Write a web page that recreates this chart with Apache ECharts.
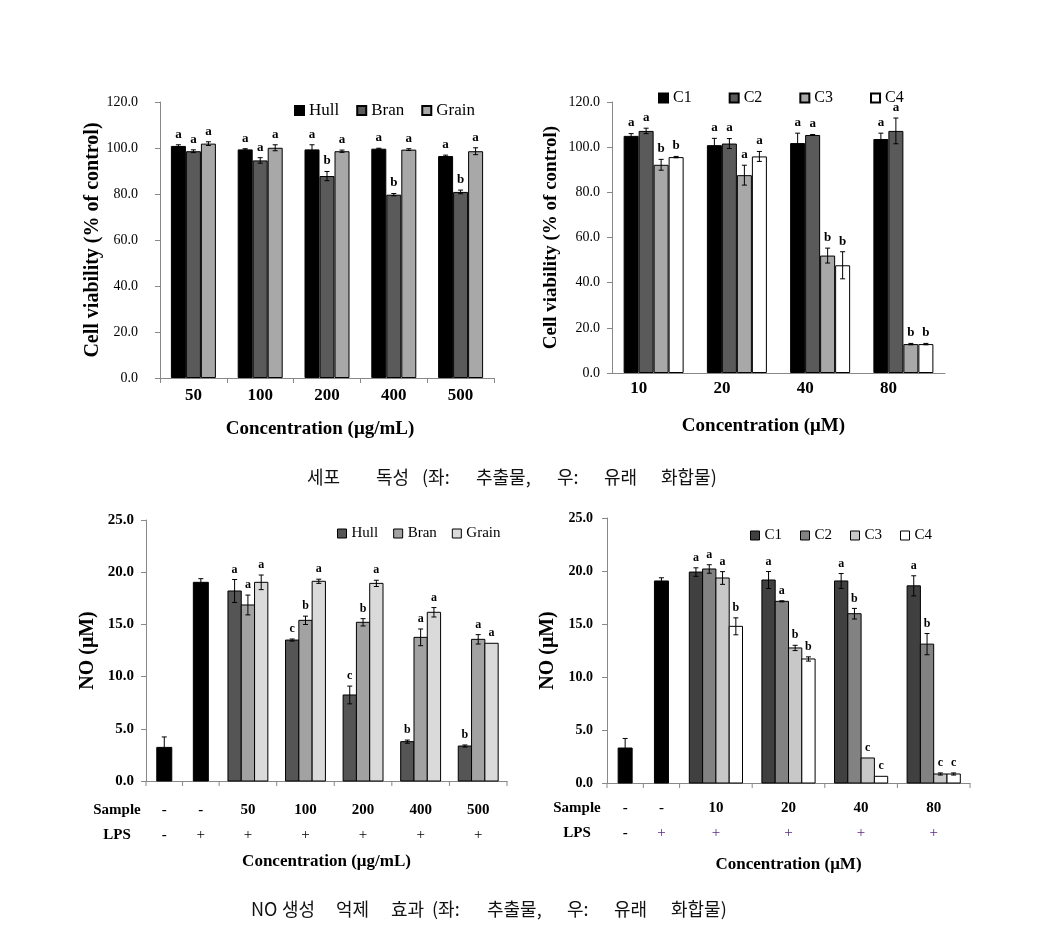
<!DOCTYPE html>
<html><head><meta charset="utf-8">
<script src="https://cdn.jsdelivr.net/npm/echarts@6/dist/echarts.min.js"></script>
<style>html,body{margin:0;padding:0;background:#fff}#c{width:1038px;height:928px}</style>
</head><body><div id="c"></div><script>
// ---------- Panel 1: cell viability, extracts ----------
const p1Categories = ['50', '100', '200', '400', '500'];
const p1Hull  = [100.9, 99.4, 99.4, 99.7, 96.5];
const p1Bran  = [98.6, 94.6, 87.8, 79.7, 80.9];
const p1Grain = [101.9, 100.1, 98.6, 99.3, 98.6];
const p1HullErr  = [0.5, 0.3, 2.0, 0.2, 0.4];
const p1BranErr  = [0.6, 1.2, 2.0, 0.5, 0.8];
const p1GrainErr = [0.8, 1.3, 0.5, 0.4, 1.5];
const p1HullSig  = ['a', 'a', 'a', 'a', 'a'];
const p1BranSig  = ['a', 'a', 'b', 'b', 'b'];
const p1GrainSig = ['a', 'a', 'a', 'a', 'a'];

// ---------- Panel 2: cell viability, compounds ----------
const p2Categories = ['10', '20', '40', '80'];
const p2C1 = [105.0, 100.9, 101.8, 103.6];
const p2C2 = [107.2, 101.6, 105.4, 107.2];
const p2C3 = [92.2, 87.6, 52.0, 12.8];
const p2C4 = [95.6, 95.9, 47.7, 12.8];
const p2C1Err = [1.0, 3.0, 4.4, 2.6];
const p2C2Err = [1.2, 2.2, 0.2, 5.7];
const p2C3Err = [2.4, 4.4, 3.3, 0.3];
const p2C4Err = [0.3, 2.2, 6.0, 0.3];
const p2C1Sig = ['a', 'a', 'a', 'a'];
const p2C2Sig = ['a', 'a', 'a', 'a'];
const p2C3Sig = ['b', 'a', 'b', 'b'];
const p2C4Sig = ['b', 'a', 'b', 'b'];

// ---------- Panel 3: NO production, extracts ----------
const p3Sample = ['-', '-', '50', '100', '200', '400', '500'];
const p3LPS    = ['-', '+', '+', '+', '+', '+', '+'];
const p3Control    = [3.22, 19.03];
const p3ControlErr = [1.0, 0.35];
const p3Hull  = [18.2, 13.5, 8.24, 3.77, 3.35];
const p3Bran  = [16.86, 15.39, 15.2, 13.76, 13.57];
const p3Grain = [19.03, 19.13, 18.93, 16.16, 13.19];
const p3HullErr  = [1.1, 0.1, 0.85, 0.15, 0.1];
const p3BranErr  = [0.95, 0.4, 0.35, 0.8, 0.45];
const p3GrainErr = [0.7, 0.2, 0.3, 0.45, 0];
const p3HullSig  = ['a', 'c', 'c', 'b', 'b'];
const p3BranSig  = ['a', 'b', 'b', 'a', 'a'];
const p3GrainSig = ['a', 'a', 'a', 'a', 'a'];

// ---------- Panel 4: NO production, compounds ----------
const p4Sample = ['-', '-', '10', '20', '40', '80'];
const p4LPS    = ['-', '+', '+', '+', '+', '+'];
const p4Control    = [3.3, 19.06];
const p4ControlErr = [0.9, 0.3];
const p4C1 = [19.9, 19.15, 19.06, 18.6];
const p4C2 = [20.19, 17.14, 15.97, 13.1];
const p4C3 = [19.34, 12.74, 2.36, 0.85];
const p4C4 = [14.78, 11.7, 0.63, 0.85];
const p4C1Err = [0.4, 0.8, 0.7, 0.95];
const p4C2Err = [0.4, 0.05, 0.5, 1.0];
const p4C3Err = [0.6, 0.25, 0, 0.1];
const p4C4Err = [0.8, 0.2, 0, 0.1];
const p4C1Sig = ['a', 'a', 'a', 'a'];
const p4C2Sig = ['a', 'a', 'b', 'b'];
const p4C3Sig = ['a', 'b', 'c', 'c'];
const p4C4Sig = ['b', 'b', 'c', 'c'];

const topCaption = ['세포', '독성', '(좌:', '추출물,', '우:', '유래', '화합물)'];
const bottomCaption = ['NO', '생성', '억제', '효과', '(좌:', '추출물,', '우:', '유래', '화합물)'];

// ---------- helpers ----------
const SERIF = "'Liberation Serif','Times New Roman',serif";
const KR = "'Noto Sans CJK KR','Noto Sans',sans-serif";

function errGroup(cx, yt, yb, sig, font, hasErr) {
  const ch = [];
  if (hasErr) {
    const s = {stroke: '#000', lineWidth: 1};
    ch.push({type: 'line', shape: {x1: cx, y1: yt, x2: cx, y2: yb}, style: s});
    ch.push({type: 'line', shape: {x1: cx - 2.5, y1: yt, x2: cx + 2.5, y2: yt}, style: s});
    ch.push({type: 'line', shape: {x1: cx - 2.5, y1: yb, x2: cx + 2.5, y2: yb}, style: s});
  }
  if (sig) ch.push({type: 'text', x: cx, y: yt - 4, style: {text: sig, font: font, fill: '#000', align: 'center', verticalAlign: 'bottom'}});
  return ch;
}

// error bars + letters on category axes (top panels)
function topErr(name, idx, rows, barW) {
  const data = [], sigs = [];
  rows.forEach((r, k) => r.v.forEach((v, i) => { data.push([i, v, r.e[i], k]); sigs.push(r.s[i]); }));
  const n = rows.length;
  return {
    type: 'custom', name: name, xAxisIndex: idx, yAxisIndex: idx, data: data, z: 5, silent: true,
    encode: {x: 0, y: 1},
    renderItem: function (params, api) {
      const i = api.value(0), v = api.value(1), e = api.value(2), k = api.value(3);
      const cx = api.coord([i, v])[0] + (k - (n - 1) / 2) * barW;
      const yt = api.coord([i, v + e])[1], yb = api.coord([i, v - e])[1];
      return {type: 'group', children: errGroup(cx, yt, yb, sigs[params.dataIndex], 'bold 13px ' + SERIF, e > 0)};
    }
  };
}

function slotCenters(widths) {
  const b = [0];
  widths.forEach(w => b.push(b[b.length - 1] + w));
  return {bounds: b, centers: widths.map((w, i) => b[i] + w / 2)};
}

// bars + error bars on value x-axis (bottom panels)
function bottomBars(name, idx, xs, vals, errs, sigs, k, n, barW, color) {
  const data = vals.map((v, i) => [xs[i], v, errs[i]]);
  return {
    type: 'custom', name: name, xAxisIndex: idx, yAxisIndex: idx, data: data, z: 3,
    encode: {x: 0, y: 1},
    itemStyle: {color: color, borderColor: '#000', borderWidth: 1},
    renderItem: function (params, api) {
      const x = api.value(0), v = api.value(1), e = api.value(2);
      const base = api.coord([x, 0]);
      const cx = base[0] + (k - (n - 1) / 2) * barW;
      const top = api.coord([x, v])[1];
      const yt = api.coord([x, v + e])[1], yb = api.coord([x, v - e])[1];
      const ch = [{type: 'rect', shape: {x: cx - barW / 2, y: top, width: barW, height: base[1] - top},
        style: {fill: color, stroke: '#000', lineWidth: 1}}];
      return {type: 'group', children: ch.concat(errGroup(cx, yt, yb, sigs ? sigs[params.dataIndex] : '', 'bold 12px ' + SERIF, e > 0))};
    }
  };
}

function decor(idx, layout, sample, lps, lpsColor, dy1, dy2, headDx) {
  const data = sample.map((s, i) => [layout.centers[i], 0]);
  const last = sample.length - 1;
  return {
    type: 'custom', name: 'decor' + idx, xAxisIndex: idx, yAxisIndex: idx, data: data, silent: true, z: 2,
    encode: {x: 0, y: 1},
    renderItem: function (params, api) {
      const i = params.dataIndex;
      const c = api.coord([api.value(0), 0]);
      const lx = api.coord([layout.bounds[i], 0])[0];
      const tk = {stroke: '#888', lineWidth: 1};
      const ch = [
        {type: 'line', shape: {x1: lx, y1: c[1], x2: lx, y2: c[1] + 5}, style: tk},
        {type: 'text', x: c[0], y: c[1] + dy1, style: {text: sample[i], font: 'bold 15px ' + SERIF, fill: '#000', align: 'center', verticalAlign: 'middle'}},
        {type: 'text', x: c[0], y: c[1] + dy2, style: {text: lps[i], font: (lps[i] === '-' ? 'bold ' : '') + '15px ' + SERIF, fill: lps[i] === '+' ? lpsColor : '#000', align: 'center', verticalAlign: 'middle'}}
      ];
      if (i === 0) {
        ch.push({type: 'text', x: lx - headDx, y: c[1] + dy1, style: {text: 'Sample', font: 'bold 15px ' + SERIF, fill: '#000', align: 'center', verticalAlign: 'middle'}});
        ch.push({type: 'text', x: lx - headDx, y: c[1] + dy2, style: {text: 'LPS', font: 'bold 15px ' + SERIF, fill: '#000', align: 'center', verticalAlign: 'middle'}});
      }
      if (i === last) {
        const rx = api.coord([layout.bounds[i + 1], 0])[0];
        ch.push({type: 'line', shape: {x1: rx, y1: c[1], x2: rx, y2: c[1] + 5}, style: tk});
      }
      return {type: 'group', children: ch};
    }
  };
}

const axisLineGray = {lineStyle: {color: '#888', width: 1}};
function yAx(idx, max, interval, name, gap, labelFont, labelMargin) {
  return {
    type: 'value', gridIndex: idx, min: 0, max: max, interval: interval,
    axisLine: {show: true, lineStyle: {color: '#888'}},
    axisTick: {show: true, length: 5, lineStyle: {color: '#888'}},
    splitLine: {show: false},
    axisLabel: {formatter: v => v.toFixed(1), color: '#000', fontFamily: SERIF, fontSize: labelFont.size, fontWeight: labelFont.weight, margin: labelMargin},
    name: name, nameLocation: 'middle', nameGap: gap,
    nameTextStyle: {fontFamily: SERIF, fontWeight: 'bold', fontSize: labelFont.nameSize, color: '#000'}
  };
}

const L3 = slotCenters([0.635, 0.635, 1, 1, 1, 1, 1]);
const L4 = slotCenters([0.5, 0.5, 1, 1, 1, 1]);
const g3 = L3.centers.slice(2), g4 = L4.centers.slice(2);

const barBorder = {borderColor: '#000', borderWidth: 1};

const option = {
  backgroundColor: '#fff',
  animation: false,
  grid: [
    {left: 160, top: 102, width: 334, height: 276},
    {left: 612, top: 102, width: 333, height: 271},
    {left: 146, top: 520, width: 361, height: 261},
    {left: 607, top: 518, width: 363, height: 265}
  ],
  xAxis: [
    {type: 'category', gridIndex: 0, data: p1Categories,
     axisLine: axisLineGray, axisTick: {show: true, length: 5, lineStyle: {color: '#888'}},
     axisLabel: {color: '#000', fontFamily: SERIF, fontWeight: 'bold', fontSize: 17, margin: 9},
     name: 'Concentration (μg/mL)', nameLocation: 'middle', nameGap: 42,
     nameTextStyle: {fontFamily: SERIF, fontWeight: 'bold', fontSize: 19, color: '#000', padding: [0, 14, 0, 0]}},
    {type: 'category', gridIndex: 1, data: p2Categories,
     axisLine: axisLineGray, axisTick: {show: false},
     axisLabel: {color: '#000', fontFamily: SERIF, fontWeight: 'bold', fontSize: 17, margin: 7, padding: [0, 30, 0, 0]},
     name: 'Concentration (μM)', nameLocation: 'middle', nameGap: 44,
     nameTextStyle: {fontFamily: SERIF, fontWeight: 'bold', fontSize: 19, color: '#000', padding: [0, 30, 0, 0]}},
    {type: 'value', gridIndex: 2, min: 0, max: L3.bounds[L3.bounds.length - 1],
     axisLine: axisLineGray, axisTick: {show: false}, axisLabel: {show: false}, splitLine: {show: false},
     name: 'Concentration (μg/mL)', nameLocation: 'middle', nameGap: 72,
     nameTextStyle: {fontFamily: SERIF, fontWeight: 'bold', fontSize: 17, color: '#000'}},
    {type: 'value', gridIndex: 3, min: 0, max: L4.bounds[L4.bounds.length - 1],
     axisLine: axisLineGray, axisTick: {show: false}, axisLabel: {show: false}, splitLine: {show: false},
     name: 'Concentration (μM)', nameLocation: 'middle', nameGap: 73,
     nameTextStyle: {fontFamily: SERIF, fontWeight: 'bold', fontSize: 17, color: '#000'}}
  ],
  yAxis: [
    yAx(0, 120, 20, 'Cell viability (% of control)', 55, {size: 14, weight: 'normal', nameSize: 20}, 22),
    yAx(1, 120, 20, 'Cell viability (% of control)', 51, {size: 14, weight: 'normal', nameSize: 19}, 12),
    yAx(2, 25, 5, 'NO (μM)', 48, {size: 15, weight: 'bold', nameSize: 20}, 12),
    yAx(3, 25, 5, 'NO (μM)', 49, {size: 14, weight: 'bold', nameSize: 20}, 14)
  ],
  legend: [
    {data: ['Hull', 'Bran', 'Grain'], left: 289, top: 97, icon: 'rect', itemWidth: 9, itemHeight: 9, itemGap: 17,
     textStyle: {fontFamily: SERIF, fontSize: 17, color: '#000'}, selectedMode: false},
    {data: ['C1', 'C2', 'C3', 'C4'], left: 653, top: 85, icon: 'rect', itemWidth: 9, itemHeight: 9, itemGap: 37,
     textStyle: {fontFamily: SERIF, fontSize: 16, color: '#000'}, selectedMode: false},
    {data: ['p3:Hull', 'p3:Bran', 'p3:Grain'], left: 332, top: 521, icon: 'rect', itemWidth: 9, itemHeight: 9, itemGap: 15,
     formatter: n => n.split(':')[1], textStyle: {fontFamily: SERIF, fontSize: 15, color: '#000'}, itemStyle: {borderWidth: 1, borderColor: '#000'}, selectedMode: false},
    {data: ['p4:C1', 'p4:C2', 'p4:C3', 'p4:C4'], left: 745, top: 523, icon: 'rect', itemWidth: 9, itemHeight: 9, itemGap: 18,
     formatter: n => n.split(':')[1], textStyle: {fontFamily: SERIF, fontSize: 15, color: '#000'}, itemStyle: {borderWidth: 1, borderColor: '#000'}, selectedMode: false}
  ],
  series: [
    // panel 1
    {type: 'bar', name: 'Hull', xAxisIndex: 0, yAxisIndex: 0, data: p1Hull, barWidth: 15, barGap: '0%', itemStyle: Object.assign({color: '#000'}, barBorder)},
    {type: 'bar', name: 'Bran', xAxisIndex: 0, yAxisIndex: 0, data: p1Bran, barWidth: 15, barGap: '0%', itemStyle: Object.assign({color: '#5a5a5a'}, barBorder)},
    {type: 'bar', name: 'Grain', xAxisIndex: 0, yAxisIndex: 0, data: p1Grain, barWidth: 15, barGap: '0%', itemStyle: Object.assign({color: '#a8a8a8'}, barBorder)},
    topErr('p1err', 0, [{v: p1Hull, e: p1HullErr, s: p1HullSig}, {v: p1Bran, e: p1BranErr, s: p1BranSig}, {v: p1Grain, e: p1GrainErr, s: p1GrainSig}], 15),
    // panel 2
    {type: 'bar', name: 'C1', xAxisIndex: 1, yAxisIndex: 1, data: p2C1, barWidth: 15, barGap: '0%', itemStyle: Object.assign({color: '#000'}, barBorder)},
    {type: 'bar', name: 'C2', xAxisIndex: 1, yAxisIndex: 1, data: p2C2, barWidth: 15, barGap: '0%', itemStyle: Object.assign({color: '#5a5a5a'}, barBorder)},
    {type: 'bar', name: 'C3', xAxisIndex: 1, yAxisIndex: 1, data: p2C3, barWidth: 15, barGap: '0%', itemStyle: Object.assign({color: '#a8a8a8'}, barBorder)},
    {type: 'bar', name: 'C4', xAxisIndex: 1, yAxisIndex: 1, data: p2C4, barWidth: 15, barGap: '0%', itemStyle: Object.assign({color: '#fff'}, barBorder)},
    topErr('p2err', 1, [{v: p2C1, e: p2C1Err, s: p2C1Sig}, {v: p2C2, e: p2C2Err, s: p2C2Sig}, {v: p2C3, e: p2C3Err, s: p2C3Sig}, {v: p2C4, e: p2C4Err, s: p2C4Sig}], 15),
    // panel 3
    decor(2, L3, p3Sample, p3LPS, '#000', 29, 54, 29),
    bottomBars('p3:Control', 2, L3.centers.slice(0, 2), p3Control, p3ControlErr, null, 0, 1, 15, '#000'),
    bottomBars('p3:Hull', 2, g3, p3Hull, p3HullErr, p3HullSig, 0, 3, 13.3, '#555555'),
    bottomBars('p3:Bran', 2, g3, p3Bran, p3BranErr, p3BranSig, 1, 3, 13.3, '#a2a2a2'),
    bottomBars('p3:Grain', 2, g3, p3Grain, p3GrainErr, p3GrainSig, 2, 3, 13.3, '#dadada'),
    // panel 4
    decor(3, L4, p4Sample, p4LPS, '#5c2a7e', 25, 50, 30),
    bottomBars('p4:Control', 3, L4.centers.slice(0, 2), p4Control, p4ControlErr, null, 0, 1, 14, '#000'),
    bottomBars('p4:C1', 3, g4, p4C1, p4C1Err, p4C1Sig, 0, 4, 13.3, '#404040'),
    bottomBars('p4:C2', 3, g4, p4C2, p4C2Err, p4C2Sig, 1, 4, 13.3, '#828282'),
    bottomBars('p4:C3', 3, g4, p4C3, p4C3Err, p4C3Sig, 2, 4, 13.3, '#c8c8c8'),
    bottomBars('p4:C4', 3, g4, p4C4, p4C4Err, p4C4Sig, 3, 4, 13.3, '#ffffff')
  ],
  graphic: []
};

// captions (word pieces laid out like the justified original)
const topX = [307, 376, 422, 476, 557, 604, 661];
const botX = [251, 282, 336, 391, 432, 487, 567, 614, 671];
topCaption.forEach((w, i) => option.graphic.push({type: 'text', left: topX[i], top: 468, style: {text: w, font: '18px ' + KR, fill: '#111'}}));
bottomCaption.forEach((w, i) => option.graphic.push({type: 'text', left: botX[i], top: 900, style: {text: w, font: '18px ' + KR, fill: '#111'}}));

const chart = echarts.init(document.getElementById('c'));
chart.setOption(option);
</script></body></html>
